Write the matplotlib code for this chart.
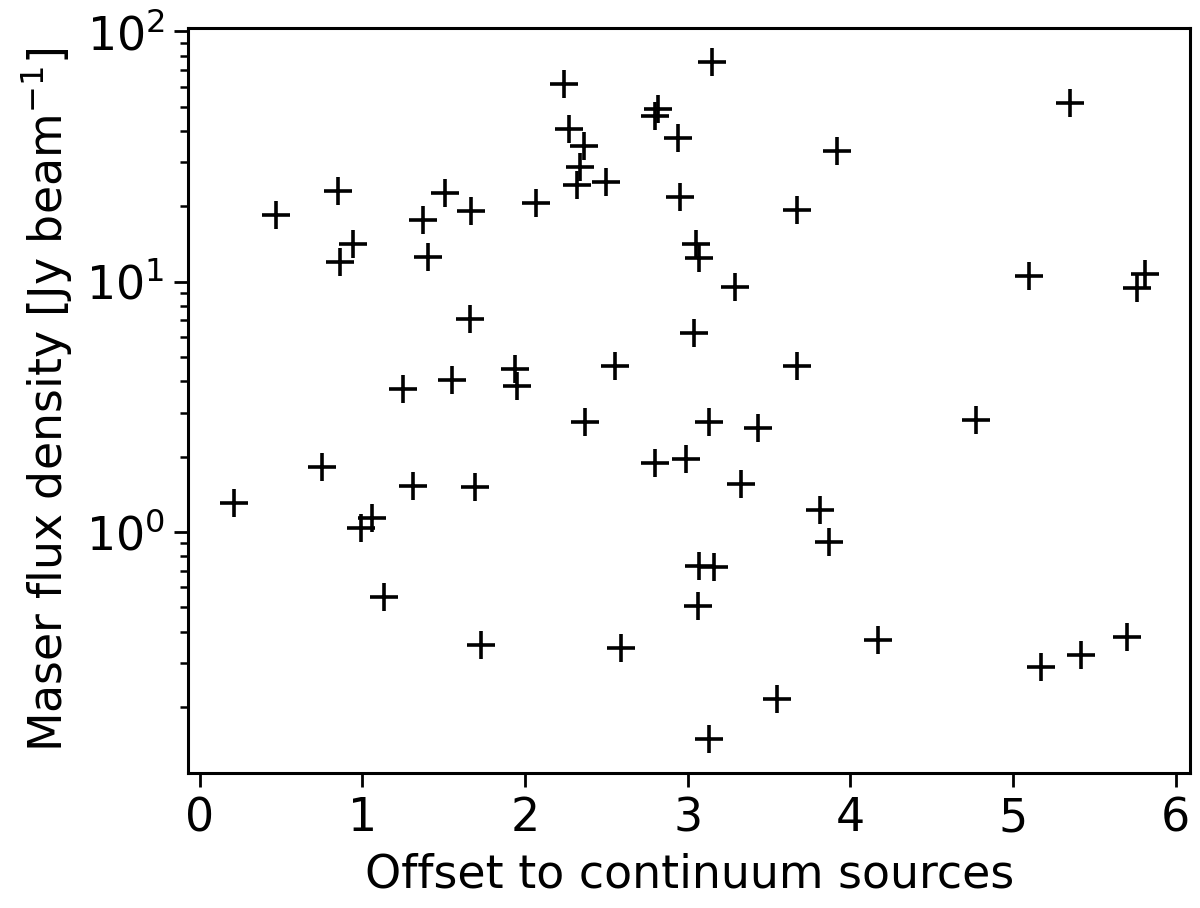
"""Maser flux density versus offset to continuum sources."""
import matplotlib
matplotlib.use("Agg")
import matplotlib.pyplot as plt
import numpy as np

# offset to nearest continuum source
offset = np.array([
    2.24, 2.82, 2.80, 2.94, 2.27, 2.36, 2.34, 2.32, 2.50, 2.95,
    0.85, 0.47, 1.51, 1.67, 1.37, 2.07, 0.94, 0.86, 1.40, 3.05,
    3.07, 1.66, 2.55, 3.04, 1.25, 1.55, 1.94, 1.95, 3.15, 5.35,
    3.92, 3.67, 5.10, 5.81, 5.76, 3.29, 3.67, 2.37, 0.21, 0.75,
    0.99, 1.06, 1.31, 1.69, 1.13, 1.73, 2.59, 2.80, 2.99, 3.13,
    3.43, 3.33, 3.81, 3.87, 3.07, 3.16, 3.06, 4.17, 3.55, 3.13,
    4.77, 5.17, 5.42, 5.70,
])
# peak maser flux density [Jy/beam]
flux = np.array([
    61.6, 49.1, 46.1, 37.4, 40.8, 35.0, 28.7, 24.3, 25.0, 21.8,
    23.0, 18.4, 22.6, 19.1, 17.6, 20.6, 14.2, 12.0, 12.5, 14.2,
    12.4, 7.11, 4.59, 6.23, 3.71, 4.04, 4.49, 3.82, 75.5, 51.7,
    33.4, 19.3, 10.5, 10.7, 9.41, 9.55, 4.62, 2.75, 1.30, 1.81,
    1.04, 1.14, 1.53, 1.51, 0.550, 0.353, 0.345, 1.89, 1.95, 2.75,
    2.61, 1.55, 1.22, 0.915, 0.734, 0.723, 0.505, 0.370, 0.216, 0.149,
    2.80, 0.288, 0.322, 0.381,
])

plt.rcParams.update({
    "font.size": 16.5,
    "axes.linewidth": 1.1,
    "xtick.major.size": 5, "ytick.major.size": 5,
    "xtick.minor.size": 3, "ytick.minor.size": 3,
    "xtick.major.width": 1.0, "ytick.major.width": 1.0,
    "ytick.minor.width": 0.9,
})

fig = plt.figure(figsize=(6.0, 4.54), dpi=200)
ax = fig.add_axes([0.157, 0.149, 0.835, 0.82])
ax.plot(offset, flux, "+", color="black", markersize=10, markeredgewidth=1.3)
ax.set_yscale("log")
ax.set_xlabel("Offset to continuum sources")
ax.set_ylabel("Maser flux density [Jy beam$^{-1}$]")
ax.set_xticks(range(0, 7))

fig.savefig("out.png", dpi=200)
